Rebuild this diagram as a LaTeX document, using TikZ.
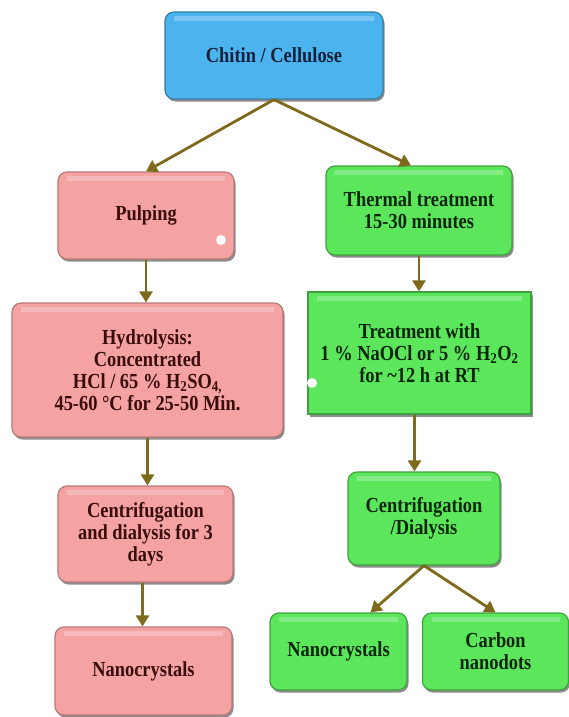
\documentclass[tikz,border=0pt]{standalone}
\usepackage{fontspec}
\setmainfont{Liberation Serif}
\newfontfamily\boxfont[FakeStretch=0.86]{Liberation Serif}
\usetikzlibrary{arrows.meta,shadows,calc}
\definecolor{bluebox}{HTML}{4BB4EE}
\definecolor{pinkbox}{HTML}{F4A2A2}
\definecolor{greenbox}{HTML}{5CE65C}
\definecolor{bluetext}{HTML}{14213D}
\definecolor{pinktext}{HTML}{3A0C0C}
\definecolor{greentext}{HTML}{0A260A}
\definecolor{arrowc}{HTML}{7D6A1C}
\begin{document}
\begin{tikzpicture}[x=1bp,y=-1bp,
  box/.style={align=center,font=\boxfont\fontsize{21.5}{22}\selectfont\bfseries,inner sep=2bp,
    line width=1.2bp,drop shadow={shadow xshift=1.5bp,shadow yshift=-2.5bp,fill=black,opacity=0.45},
    path picture={\fill[white,opacity=0.25,sharp corners,draw=none]
      ($(path picture bounding box.north west)+(9,4)$) rectangle
      ($(path picture bounding box.north east)+(-9,9)$);}},
  rbox/.style={box,rounded corners=9bp},
  bluestyle/.style={rbox,fill=bluebox,draw=bluebox!70!black,text=bluetext},
  pinkstyle/.style={rbox,fill=pinkbox,draw=pinkbox!75!black,text=pinktext},
  greenstyle/.style={rbox,fill=greenbox,draw=greenbox!70!black,text=greentext},
  greenrect/.style={box,fill=greenbox,draw=greenbox!70!black,text=greentext},
  arr/.style={draw=arrowc,line width=2.8bp,-{Triangle[width=13bp,length=11bp]}},
  dot/.style={circle,fill=white,inner sep=0pt,minimum size=10bp}]
\useasboundingbox (0,0) rectangle (569,717);
\node[bluestyle,minimum width=218bp,minimum height=87bp] (chitin) at (274,55.5) {Chitin / Cellulose};
\node[pinkstyle,minimum width=176bp,minimum height=87bp] (pulp) at (146,215.5) {Pulping};
\node[greenstyle,minimum width=186bp,minimum height=89bp] (therm) at (419,210.5) {Thermal treatment\\15-30 minutes};
\node[pinkstyle,minimum width=271bp,minimum height=134bp] (hydro) at (147.5,370) {Hydrolysis:\\Concentrated\\HCl / 65 \% H\textsubscript{2}SO\textsubscript{4,}\\45-60 °C for 25-50 Min.};
\node[greenrect,minimum width=223bp,minimum height=122bp] (treat) at (419.5,353) {Treatment with\\1 \% NaOCl or 5 \% H\textsubscript{2}O\textsubscript{2}\\for \textasciitilde12 h at RT};
\node[pinkstyle,minimum width=175bp,minimum height=96bp] (cenL) at (145.5,534) {Centrifugation\\and dialysis for 3\\days};
\node[pinkstyle,minimum width=177bp,minimum height=88bp] (nanoL) at (143.5,671) {Nanocrystals};
\node[greenstyle,minimum width=152bp,minimum height=93bp] (cenR) at (424,518.5) {Centrifugation\\/Dialysis};
\node[greenstyle,minimum width=137bp,minimum height=77bp] (nanoR) at (338.5,651.5) {Nanocrystals};
\node[greenstyle,minimum width=146bp,minimum height=77bp] (carbon) at (495.5,651.5) {Carbon\\nanodots};
\node[dot] (dotA) at (221,240) {};
\node[dot] (dotB) at (312,383) {};
\draw[arr] (chitin.south) -- (pulp.north);
\draw[arr] (chitin.south) -- ($(therm.north)+(-8,0)$);
\draw[arr] (pulp.south) -- (pulp.south |- hydro.north);
\draw[arr] (hydro.south) -- (hydro.south |- cenL.north);
\draw[arr] ($(cenL.south)+(-3,0)$) -- ($(cenL.south |- nanoL.north)+(-3,0)$);
\draw[arr] (therm.south) -- (therm.south |- treat.north);
\draw[arr] ($(treat.south)+(-5,0)$) -- ($(treat.south |- cenR.north)+(-5,0)$);
\draw[arr] (cenR.south) -- ($(nanoR.north)+(32,0)$);
\draw[arr] (cenR.south) -- (carbon.north);
\end{tikzpicture}
\end{document}
